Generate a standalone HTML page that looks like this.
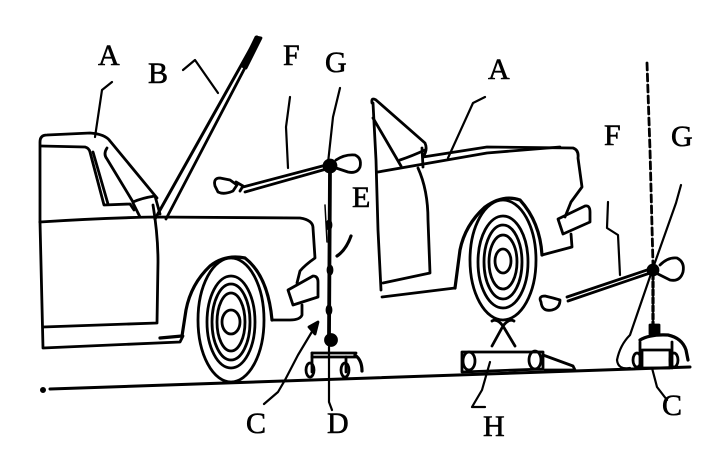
<!DOCTYPE html>
<html><head><meta charset="utf-8"><style>
html,body{margin:0;padding:0;background:#fff;}
svg{display:block;}
text{font-family:"Liberation Serif",serif;font-size:30px;fill:#000;stroke:#000;stroke-width:0.6px;}
</style></head><body>
<svg width="718" height="454" viewBox="0 0 718 454" xmlns="http://www.w3.org/2000/svg">
<g fill="none" stroke="#000" stroke-width="2.8" stroke-linecap="round" stroke-linejoin="round">
<!-- ground -->
<path d="M50,389 L690,367" stroke-width="3"/>
<circle cx="43" cy="390" r="1.6" fill="#000"/>

<!-- CAR 1 -->
<path d="M40,222 L40,142 Q40,135 47,135 L90,133 Q105,134 110,141 L157,198"/>
<path d="M41,146 L85,147 Q89,148 90,152 L104,205 L130,204 L134,210"/>
<path d="M93,152 L108,204"/>
<path d="M107,148 Q103,154 107,159 L133,202 Q142,198 155,196 L160,214"/>
<path d="M133,203 L140,217"/>
<!-- hood B -->
<path d="M257,37 L155,219" stroke-width="3"/>
<path d="M260,39 L166,219" stroke-width="2.8"/>
<path d="M256,37 L261,38 L246,68 L242,66 Z" fill="#000"/>
<!-- body -->
<path d="M40,222 Q100,218 155,217 L300,218 Q313,220 313,228 L315,258 Q305,265 300,271 L297,283"/>
<path d="M288,290 L313,276 Q318,276 318,282 L318,297 L293,305 Z"/>
<path d="M302,305 L302,315 Q300,320 290,320 L272,320"/>
<path d="M272,320 Q268,276 245,258 Q225,254 210,266 Q191,284 186,310 L182,336 L160,338" stroke-width="3.2"/>
<path d="M40,222 L43,348 L180,342 L183,336"/>
<path d="M43,327 L157,323 L158,262 Q158,235 153,205"/>
<!-- wheel 1 -->
<ellipse cx="231" cy="320" rx="33" ry="62"/>
<ellipse cx="231" cy="322" rx="24" ry="46"/>
<ellipse cx="231" cy="322" rx="19" ry="38"/>
<ellipse cx="231" cy="322" rx="14" ry="29"/>
<ellipse cx="231" cy="322" rx="9" ry="12"/>

<!-- STAND 1 -->
<path d="M330,168 L329,337" stroke-width="3.8"/>
<ellipse cx="329" cy="225" rx="2" ry="4" fill="#000"/>
<ellipse cx="330" cy="270" rx="2" ry="4" fill="#000"/>
<ellipse cx="329" cy="310" rx="2" ry="4" fill="#000"/>
<path d="M325,205 L327,242" stroke-width="1.5"/>
<path d="M243,187 L330,164"/>
<path d="M245,192 L330,168"/>
<circle cx="330" cy="166" r="6" fill="#000"/>
<path d="M215,186 Q213,178 220,178 L230,180 L237,185 L233,191 Q224,195 218,192 Z"/>
<path d="M236,182 L243,186 L240,191"/>
<path d="M336,160 Q345,154 355,155 Q362,158 360,167 Q357,174 348,172 L336,168"/>
<circle cx="331" cy="340" r="5.5" fill="#000"/>
<path d="M312,353 L356,353 M312,357 L356,357"/>
<path d="M312,353 L312,372 M346,357 L346,372"/>
<ellipse cx="310" cy="370" rx="4" ry="7"/>
<ellipse cx="345" cy="370" rx="4" ry="7"/>
<path d="M355,355 Q362,360 362,371" stroke-width="3.2"/>
<path d="M329,347 L329,402 L332,410" stroke-width="2.2"/>
<!-- C1 leader -->
<path d="M313,330 L298,355 L285,380 L278,392 L264,404" stroke-width="2.2"/>
<path d="M309,327 L318,322 L315,334 Z" fill="#000"/>
<!-- E leader -->
<path d="M351,236 Q346,250 337,256" stroke-width="3.2"/>

<!-- leaders top-left -->
<path d="M112,82 L102,90 L95,137" stroke-width="2.2"/>
<path d="M183,70 L195,60 L218,93" stroke-width="2.2"/>
<path d="M290,97 L286,127 L288,168" stroke-width="2.2"/>
<path d="M340,88 L333,117 L328,163" stroke-width="2.2"/>

<!-- CAR 2 -->
<path d="M372,103 Q371,97 376,100 L425,143 Q428,150 423,157"/>
<path d="M373,118 L401,166 M400,160 Q412,156 425,150"/>
<path d="M422,148 L423,167"/>
<path d="M373,103 L376,160 L378,230 L381,290"/>
<path d="M378,172 Q430,163 487,153 L560,147"/>
<path d="M423,157 L487,147 L573,148 Q579,150 578,158 L582,187 L571,202 L565,217"/>
<path d="M558,219 L585,206 Q590,205 590,212 L590,222 L563,234 Z"/>
<path d="M571,234 L572,247 L542,255"/>
<path d="M542,255 Q540,222 520,200 Q503,194 485,207 Q465,225 460,250 L455,288" stroke-width="3.2"/>
<path d="M418,168 Q428,190 428,220 L430,273 L383,283"/>
<path d="M382,297 L455,288"/>
<!-- wheel 2 -->
<ellipse cx="503" cy="260" rx="33" ry="60"/>
<ellipse cx="503" cy="262" rx="25" ry="46"/>
<ellipse cx="503" cy="262" rx="19" ry="37"/>
<ellipse cx="503" cy="262" rx="14" ry="27"/>
<ellipse cx="503" cy="261" rx="8" ry="12"/>
<!-- A2 leader -->
<path d="M485,97 L473,103 L448,158" stroke-width="2.2"/>

<!-- JACK H -->
<path d="M492,321 Q497,318 503,326 L515,346 M514,321 Q509,318 503,326 L492,346"/>
<path d="M462,352 L543,352 L543,369 L462,372 Z"/>
<ellipse cx="469" cy="361" rx="6" ry="9"/>
<ellipse cx="535" cy="360" rx="6" ry="9"/>
<path d="M543,355 L573,366 L575,370 L545,370"/>
<path d="M490,362 L482,390 L472,407 L485,407" stroke-width="2.2"/>

<!-- STAND 2 -->
<path d="M647,63 L650,150 L653,265" stroke-width="2.8" stroke-dasharray="7 4"/>
<path d="M608,202 L607,228 L618,235 L620,275" stroke-width="2.2"/>
<path d="M681,185 L676,203 L653,268 L630,335 Q620,345 617,360 Q618,370 630,368" stroke-width="2.2"/>
<path d="M567,297 L653,268"/>
<path d="M568,301 L653,272"/>
<circle cx="653" cy="270" r="5" fill="#000"/>
<path d="M541,302 Q538,296 545,296 L553,298 L560,300 Q560,308 552,310 Q542,312 541,302 Z"/>
<path d="M660,265 Q668,257 677,258 Q685,262 683,272 Q680,282 670,280 L658,274"/>
<path d="M653,274 L653,328" stroke-width="3.2" stroke-dasharray="5 3"/>
<rect x="650" y="325" width="9" height="9" fill="#000"/>
<path d="M640,340 Q650,334 668,335 Q682,338 686,350 L688,360" stroke-width="3.2"/>
<path d="M640,342 L640,368 M672,342 L672,368"/>
<rect x="642" y="350" width="28" height="18" fill="none"/>
<ellipse cx="637" cy="360" rx="4" ry="7"/>
<ellipse cx="674" cy="360" rx="4" ry="7"/>
<path d="M652,368 L657,387 L667,400" stroke-width="2.2"/>
</g>

<text x="98" y="65">A</text>
<text x="148" y="83">B</text>
<text x="283" y="65">F</text>
<text x="325" y="72">G</text>
<text x="488" y="79">A</text>
<text x="352" y="207">E</text>
<text x="604" y="145">F</text>
<text x="671" y="146">G</text>
<text x="246" y="433">C</text>
<text x="327" y="433">D</text>
<text x="483" y="436">H</text>
<text x="662" y="415">C</text>
</svg>
</body></html>
